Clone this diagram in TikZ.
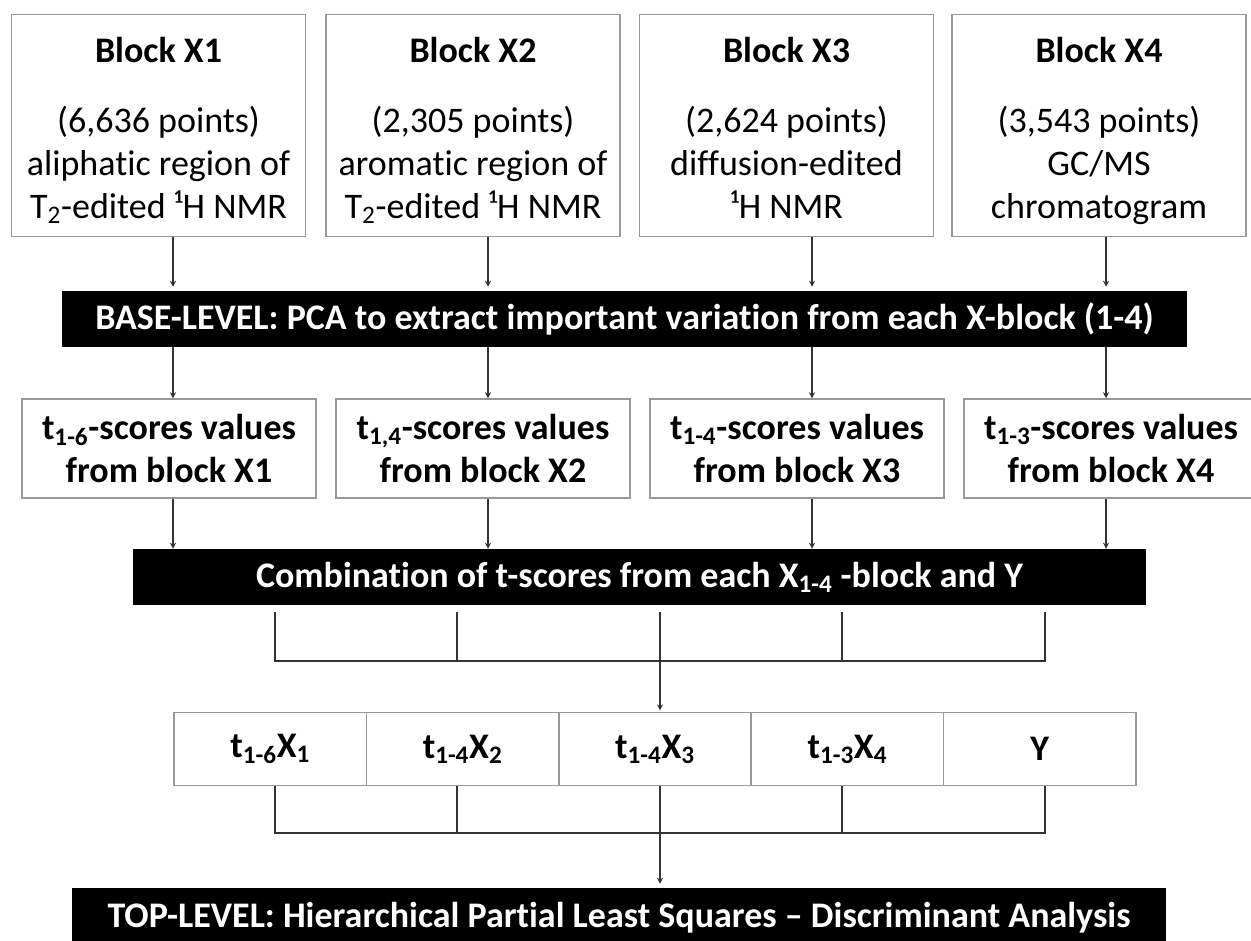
\documentclass[tikz,border=0pt]{standalone}
\usepackage{fontspec}
\setmainfont{Carlito}[Ligatures=NoCommon]
\usetikzlibrary{arrows.meta}
\newcommand\bodysize{\fontsize{27}{32.5}\selectfont}
\begin{document}
\begin{tikzpicture}[x=0.75pt,y=-0.75pt,
  blockbox/.style={draw=black!40,line width=1.1pt,minimum width=220.5pt,align=center,inner sep=0pt,font=\bodysize},
  sourcebox/.style={blockbox,anchor=north,text height=153pt,text depth=13.5pt},
  scorebox/.style={blockbox,minimum height=74.25pt,font=\bodysize\bfseries},
  cellbox/.style={draw=black!40,line width=1.1pt,minimum width=144.3pt,minimum height=54.75pt,inner sep=0pt,font=\bodysize\bfseries},
  levelbar/.style={fill=black,text=white,minimum height=42pt,inner sep=0pt,font=\bodysize\bfseries},
  link/.style={draw=black!80,line width=1.1pt},
  arr/.style={link,-{Stealth[length=4.5pt,width=4.5pt]}}]
\useasboundingbox (0,0) rectangle (1251,940);

\node[sourcebox] (blk1) at (158.5,14) {\textbf{Block X1}\\[20pt](6,636 points)\\aliphatic region of\\T\textsubscript{2}-edited ¹H NMR};
\node[sourcebox] (blk2) at (473,14) {\textbf{Block X2}\\[20pt](2,305 points)\\aromatic region of\\T\textsubscript{2}-edited ¹H NMR};
\node[sourcebox] (blk3) at (786.5,14) {\textbf{Block X3}\\[20pt](2,624 points)\\diffusion-edited\\¹H NMR};
\node[sourcebox] (blk4) at (1099,14) {\textbf{Block X4}\\[20pt](3,543 points)\\GC/MS\\chromatogram};

\node[levelbar,minimum width=843.75pt] (base) at (624.5,319) {BASE-LEVEL: PCA to extract important variation from each X-block (1-4)};

\node[scorebox] (sc1) at (169,448.5) {t\textsubscript{1-6}-scores values\\from block X1};
\node[scorebox] (sc2) at (483,448.5) {t\textsubscript{1,4}-scores values\\from block X2};
\node[scorebox] (sc3) at (797,448.5) {t\textsubscript{1-4}-scores values\\from block X3};
\node[scorebox] (sc4) at (1111,448.5) {t\textsubscript{1-3}-scores values\\from block X4};

\node[levelbar,minimum width=759.75pt] (comb) at (639.5,577) {Combination of t-scores from each X\textsubscript{1-4} -block and Y};

\node[cellbox] (cell1) at (270.2,749) {t\textsubscript{1-6}X\textsubscript{1}};
\node[cellbox] (cell2) at (462.6,749) {t\textsubscript{1-4}X\textsubscript{2}};
\node[cellbox] (cell3) at (655,749) {t\textsubscript{1-4}X\textsubscript{3}};
\node[cellbox] (cell4) at (847.4,749) {t\textsubscript{1-3}X\textsubscript{4}};
\node[cellbox] (cell5) at (1039.8,749) {Y};

\node[levelbar,minimum width=820.5pt,minimum height=45pt] (top) at (619,918) {TOP-LEVEL: Hierarchical Partial Least Squares -- Discriminant Analysis};

\coordinate (k1) at (173,0);
\coordinate (k2) at (488,0);
\coordinate (k3) at (812,0);
\coordinate (k4) at (1106,0);
\coordinate (j1) at (275,661);
\coordinate (j2) at (457,661);
\coordinate (j3) at (660,661);
\coordinate (j4) at (842,661);
\coordinate (j5) at (1045,661);
\coordinate (hl) at (0,833);

\foreach \i in {1,...,4} {
  \draw[arr] (blk\i.south -| k\i) -- ([yshift=3pt]base.north -| k\i);
  \draw[arr] (base.south -| k\i) -- (sc\i.north -| k\i);
  \draw[arr] (sc\i.south -| k\i) -- (comb.north -| k\i);
}

\draw[link] ([yshift=-5pt]comb.south -| j1) |- (j5) -- ([yshift=-5pt]comb.south -| j5);
\foreach \i in {2,3,4}
  \draw[link] ([yshift=-5pt]comb.south -| j\i) -- (j\i);
\draw[arr] (j3) -- ([yshift=1pt]cell3.north -| j3);

\draw[link] (cell1.south -| j1) |- (hl -| j5) -- (cell5.south -| j5);
\foreach \i in {2,3,4}
  \draw[link] (cell\i.south -| j\i) -- (hl -| j\i);
\draw[arr] (hl -| j3) -- ([yshift=3pt]top.north -| j3);
\end{tikzpicture}
\end{document}
